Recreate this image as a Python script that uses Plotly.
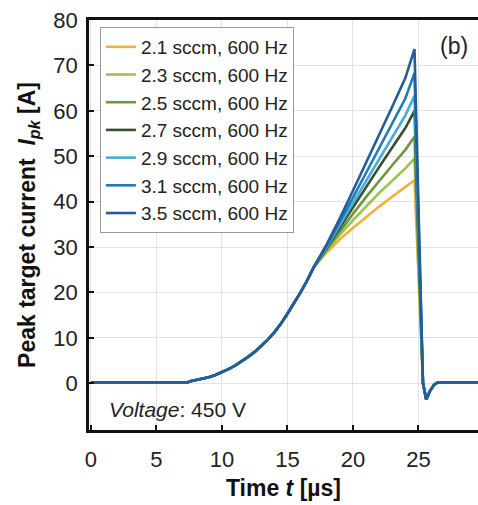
import plotly.graph_objects as go

# time axis (µs)
t_base = [0.0, 7.4, 7.5, 8.0, 8.5, 9.0, 9.5, 10.0, 10.5, 11.0, 11.5, 12.0, 12.5, 13.0,
          13.5, 14.0, 14.5, 15.0, 15.5, 16.0, 16.5]
i_base = [0.2, 0.2, 0.4, 0.7, 1.0, 1.3, 1.8, 2.4, 3.1, 3.9, 4.8, 5.8, 6.9, 8.2,
          9.6, 11.2, 13.1, 15.3, 17.6, 20.0, 22.6]

t_branch = [17, 18, 19, 20, 21, 22, 23, 24, 24.7]
branches = {
    "2.1 sccm, 600 Hz": [25.5, 28.8, 31.7, 34.2, 36.6, 38.9, 41.1, 43.2, 44.7],
    "2.3 sccm, 600 Hz": [25.5, 29.2, 32.7, 35.9, 39.0, 41.9, 44.6, 47.3, 49.5],
    "2.5 sccm, 600 Hz": [25.5, 29.5, 33.5, 37.3, 41.0, 44.6, 48.0, 51.4, 54.3],
    "2.7 sccm, 600 Hz": [25.5, 29.8, 34.3, 38.8, 43.2, 47.6, 51.9, 56.2, 60.0],
    "2.9 sccm, 600 Hz": [25.5, 30.0, 34.8, 39.7, 44.6, 49.4, 54.2, 59.0, 63.3],
    "3.1 sccm, 600 Hz": [25.5, 30.3, 35.5, 40.9, 46.3, 51.8, 57.2, 62.7, 68.3],
    "3.5 sccm, 600 Hz": [25.5, 30.6, 36.3, 42.4, 48.5, 54.7, 60.9, 67.2, 73.6],
}
t_tail = [25.35, 25.6, 25.9, 26.2, 26.5, 30.0]
i_tail = [0.0, -3.6, -1.6, -0.3, 0.2, 0.2]

colors = ["#f4b03c", "#9cc34c", "#6e9640", "#34512a", "#45acd9", "#1f7ab5", "#245c99"]

x_ticks = [0, 5, 10, 15, 20, 25]
y_ticks = [0, 10, 20, 30, 40, 50, 60, 70, 80]

FONT = "Liberation Sans, Arial, sans-serif"

fig = go.Figure()
for (name, vals), col in zip(branches.items(), colors):
    fig.add_trace(go.Scatter(
        x=t_base + t_branch + t_tail,
        y=i_base + vals + i_tail,
        mode="lines", name=name,
        line=dict(color=col, width=2.6),
    ))

fig.update_layout(
    width=478, height=505,
    margin=dict(l=89, r=0, t=20, b=75),
    paper_bgcolor="white", plot_bgcolor="white",
    font=dict(family=FONT, size=20, color="#222"),
    showlegend=True,
    legend=dict(x=0.028, y=0.983, xanchor="left", yanchor="top",
                bgcolor="white", bordercolor="#999", borderwidth=1,
                font=dict(size=19, color="#222"), tracegroupgap=0),
    xaxis=dict(range=[-0.15, 29.55], tickvals=x_ticks, ticks="inside", ticklen=5,
               tickwidth=1.5, tickcolor="#111", showline=True, linecolor="#111",
               linewidth=2.5, mirror=True, showgrid=True, gridcolor="#e3e3e3",
               gridwidth=1, zeroline=False, automargin=False, ticklabelstandoff=8,
               tickfont=dict(size=22, color="#222"),
               title=dict(text="<b>Time <i>t</i> [µs]</b>", font=dict(size=23, color="#111"),
                          standoff=9)),
    yaxis=dict(range=[-10.3, 80], tickvals=y_ticks, ticks="inside", ticklen=5,
               tickwidth=1.5, tickcolor="#111", showline=True, linecolor="#111",
               linewidth=2.5, mirror=False, showgrid=True, gridcolor="#e3e3e3",
               gridwidth=1, zeroline=False, automargin=False, ticklabelstandoff=4,
               tickfont=dict(size=22, color="#222"),
               title=dict(text="<b>Peak target current&nbsp;&nbsp;<i>I</i><sub><i>pk</i></sub> [A]</b>",
                          font=dict(size=23, color="#111"), standoff=12)),
    annotations=[
        dict(text="(b)", x=0.938, y=0.937, xref="paper", yref="paper",
             xanchor="center", yanchor="middle",
             showarrow=False, font=dict(size=23, color="#222")),
        dict(text="<i>Voltage</i>: 450 V", x=0.046, y=0.05, xref="paper", yref="paper",
             xanchor="left", yanchor="middle", showarrow=False,
             font=dict(size=21, color="#222")),
    ],
)

fig.write_html("out.html", config={"displayModeBar": False},
               post_script="document.body.style.margin='0';document.body.style.overflow='hidden';")
